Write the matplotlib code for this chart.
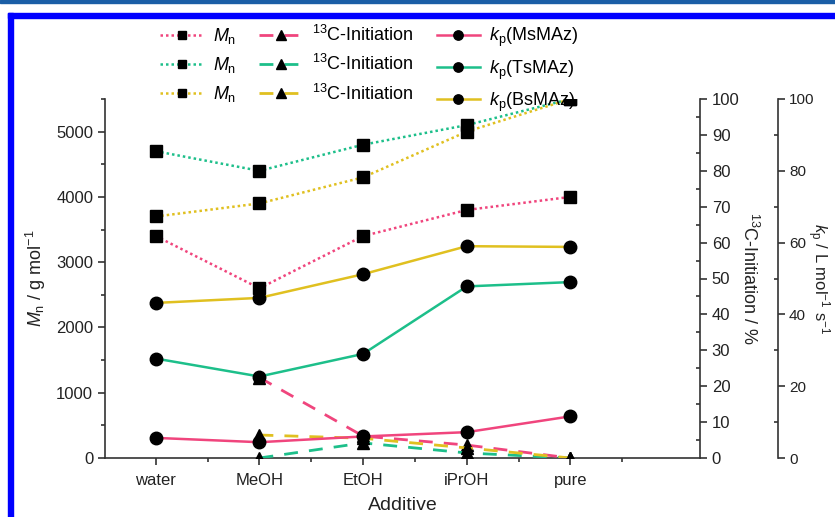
import matplotlib
matplotlib.use("Agg")
import matplotlib.pyplot as plt
from matplotlib.patches import Rectangle
from matplotlib.ticker import MultipleLocator, FixedLocator

plt.rcParams['font.family'] = ['Liberation Sans', 'DejaVu Sans']
plt.rcParams['mathtext.fontset'] = 'custom'
plt.rcParams['mathtext.rm'] = 'Liberation Sans'
plt.rcParams['mathtext.it'] = 'Liberation Sans:italic'

additives = ["water", "MeOH", "EtOH", "iPrOH", "pure"]
x = list(range(len(additives)))

# M_n / g mol-1
mn_ms = [3400, 2600, 3400, 3800, 4000]
mn_ts = [4700, 4400, 4800, 5100, 5500]
mn_bs = [3700, 3900, 4300, 5000, 5500]

# 13C-Initiation / %  (no value for water)
init_x = [1, 2, 3, 4]
init_ms = [22.4, 6.1, 3.6, 0]
init_ts = [0, 4.2, 1.4, 0]
init_bs = [6.4, 5.5, 2.8, 0]

# k_p / L mol-1 s-1
kp_ms = [5.6, 4.4, 6.0, 7.2, 11.6]
kp_ts = [27.7, 22.7, 29.0, 47.8, 49.0]
kp_bs = [43.2, 44.6, 51.2, 59.0, 58.8]

pink = '#f0457d'
green = '#1dbf8a'
yellow = '#e0c020'
axc = '#333333'
txt = '#222222'

W, H = 835, 517
fig = plt.figure(figsize=(W / 100, H / 100), dpi=100)

# page frame
fig.patches.append(Rectangle((0, 1 - 3 / H), 1, 3 / H, transform=fig.transFigure,
                             color='#1a5ea6', zorder=0))
fig.patches.append(Rectangle((8 / W, 1 - 18 / H), 1, 5 / H, transform=fig.transFigure,
                             color='#0000ff', zorder=0))
fig.patches.append(Rectangle((8 / W, 0), 5 / W, 1 - 13 / H, transform=fig.transFigure,
                             color='#0000ff', zorder=0))

left, right, bottom, top = 105, 700, 458, 99
ax = fig.add_axes([left / W, 1 - bottom / H, (right - left) / W, (bottom - top) / H])
ax.patch.set_alpha(0)
ax2 = ax.twinx()
ax3 = ax.twinx()
ax3.spines['right'].set_position(('axes', (778 - left) / (right - left)))

for a in (ax, ax2, ax3):
    for s in a.spines.values():
        s.set_visible(False)
        s.set_color(axc)
        s.set_linewidth(1.2)
ax.spines['left'].set_visible(True)
ax.spines['bottom'].set_visible(True)
ax2.spines['right'].set_visible(True)
ax3.spines['right'].set_visible(True)

ms_sq, ms_c, ms_t = 8, 9, 9
lines = []
for yv, c in ((mn_ms, pink), (mn_ts, green), (mn_bs, yellow)):
    l, = ax.plot(x, yv, color=c, ls=(0, (1, 1.2)), lw=1.8, marker='s', ms=ms_sq,
                 mfc='black', mec='black', label=r'$M_\mathregular{n}$')
    lines.append(l)
for yv, c in ((init_ms, pink), (init_ts, green), (init_bs, yellow)):
    l, = ax2.plot(init_x, yv, color=c, ls=(0, (5, 4)), lw=2, marker='^', ms=ms_t,
                  mfc='black', mec='black', label=r'$^{13}$C-Initiation')
    lines.append(l)
for yv, c, name in ((kp_ms, pink, 'MsMAz'), (kp_ts, green, 'TsMAz'), (kp_bs, yellow, 'BsMAz')):
    l, = ax3.plot(x, yv, color=c, ls='-', lw=1.8, marker='o', ms=ms_c,
                  mfc='black', mec='black', label=r'$k_\mathregular{p}$(' + name + ')')
    lines.append(l)

ax.set_xlim(-0.49, 5.25)
ax.set_ylim(0, 5500)
ax2.set_ylim(0, 100)
ax3.set_ylim(0, 100)

ax.set_xticks(x)
ax.set_xticklabels(additives)
ax.xaxis.set_minor_locator(FixedLocator([0.5, 1.5, 2.5, 3.5, 4.5]))
ax.yaxis.set_major_locator(MultipleLocator(1000))
ax.yaxis.set_minor_locator(MultipleLocator(500))
ax2.yaxis.set_major_locator(MultipleLocator(10))
ax2.yaxis.set_minor_locator(MultipleLocator(5))
ax3.yaxis.set_major_locator(MultipleLocator(20))
ax3.yaxis.set_minor_locator(MultipleLocator(10))

for a in (ax, ax2, ax3):
    a.tick_params(which='major', direction='out', length=5, width=1.2, color=axc,
                  labelsize=12, labelcolor=txt)
    a.tick_params(which='minor', length=3, width=1.2, color=axc)
ax.tick_params(axis='x', pad=6)
ax2.tick_params(which='minor', direction='in')
ax3.tick_params(which='minor', direction='in')
ax3.tick_params(which='major', labelsize=11, pad=3)

ax.set_xlabel('Additive', fontsize=14, color=txt, labelpad=6)
ax.set_ylabel(r'$M_\mathregular{n}$ / g mol$^{\mathregular{-1}}$', fontsize=13, color=txt,
              labelpad=6)
ax2.set_ylabel(r'$^{\mathregular{13}}$C-Initiation / %', fontsize=13, color=txt,
               rotation=270, labelpad=14)
ax3.set_ylabel(r'$k_\mathregular{p}$ / L mol$^{\mathregular{-1}}$ s$^{\mathregular{-1}}$',
               fontsize=12, color=txt, rotation=270, labelpad=12)

fig.legend(handles=lines, ncol=3, loc='upper left', bbox_to_anchor=(153 / W, 1 - 18 / H),
           frameon=False, fontsize=13, handlelength=2.4, handletextpad=0.5,
           columnspacing=1.3, labelspacing=0.5, borderaxespad=0, markerscale=0.75)

fig.savefig('out.png', dpi=100)
